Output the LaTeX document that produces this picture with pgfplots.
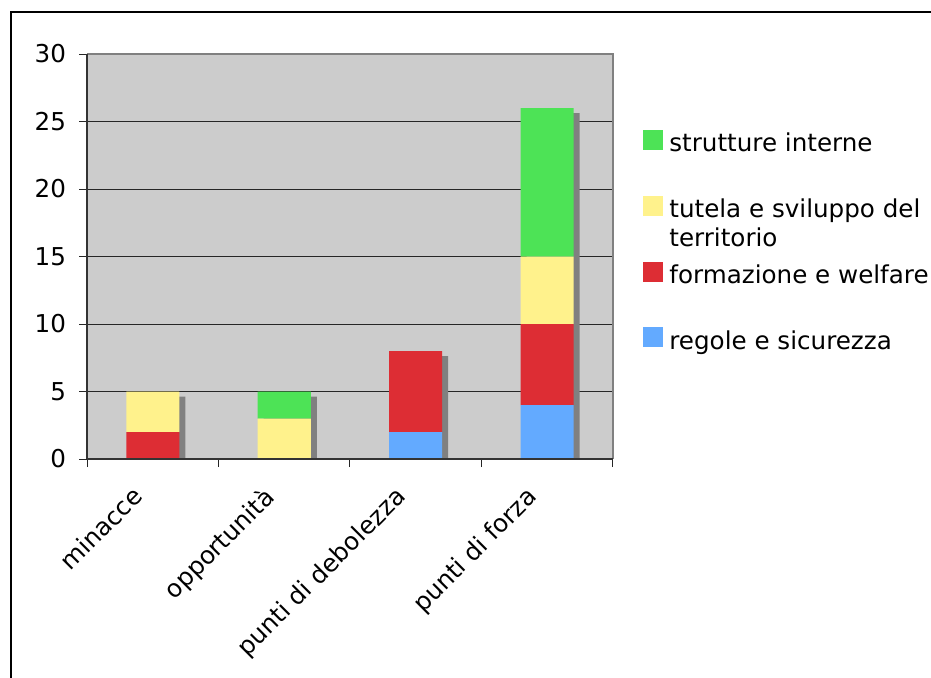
\documentclass[border=0pt]{standalone}
\usepackage{fontspec}
\setmainfont{DejaVu Sans}
\usepackage{pgfplots}
\pgfplotsset{compat=1.18}
\definecolor{cgreen}{HTML}{4DE356}
\definecolor{cyellow}{HTML}{FFF28C}
\definecolor{cred}{HTML}{DD2D34}
\definecolor{cblue}{HTML}{63AAFF}
\definecolor{cbg}{HTML}{CCCCCC}
\definecolor{cshadow}{HTML}{808080}
\newcommand{\chfont}{\fontsize{12.3}{14.5}\selectfont}
\begin{document}
\begin{tikzpicture}
\path[use as bounding box] (0,0) rectangle (465.5pt,338.5pt);
\draw[line width=1.1pt] (5.4pt,-20pt) -- (5.4pt,332.6pt) -- (490pt,332.6pt);
\begin{axis}[
  at={(43.5pt,109pt)}, anchor=south west, scale only axis,
  width=263pt, height=202.5pt,
  xmin=-0.5, xmax=3.5, ymin=0, ymax=30,
  axis background/.style={fill=cbg},
  axis line style={draw=none},
  xtick=\empty, ytick={5,10,15,20,25}, yticklabels={},
  major tick length=0pt,
  ymajorgrids, grid style={black!85, line width=0.5pt},
]
\addplot[ybar, bar width=26.5pt, fill=cshadow, draw=none, xshift=3pt, yshift=-2.5pt]
  coordinates {(0,5) (1,5) (2,8) (3,26)};
\end{axis}
\begin{axis}[
  at={(43.5pt,109pt)}, anchor=south west, scale only axis,
  width=263pt, height=202.5pt,
  xmin=-0.5, xmax=3.5, ymin=0, ymax=30,
  ybar stacked, bar width=26.5pt,
  axis line style={draw=none},
  tick pos=left, tick align=outside, major tick length=4pt,
  tick style={black!85, line width=0.5pt},
  xtick={-0.5,0.5,1.5,2.5,3.5}, xticklabels={},
  extra x ticks={0,1,2,3},
  extra x tick labels={minacce,opportunità,punti di debolezza,punti di forza},
  extra x tick style={major tick length=0pt,
    xticklabel style={xshift=-11pt, yshift=-8pt, rotate=45, anchor=north east}},
  ytick={0,5,...,30},
  yticklabel style={/pgf/number format/assume math mode=true, font=\chfont, xshift=-3pt},
  xticklabel style={font=\chfont},
  legend style={draw=none, fill=none, inner sep=0pt, at={(1,1)}, anchor=north west,
    xshift=15pt, yshift=-37.6pt, row sep=19.7pt, column sep=3pt,
    nodes={inner sep=0pt, text depth=0.24em}, cells={anchor=west},
    font=\chfont},
  legend image code/.code={\fill[#1] (0pt,-0.26em) rectangle (10pt,\dimexpr10pt-0.26em\relax);},
  reverse legend,
  after end axis/.code={
    \draw[cshadow, line width=1pt] (rel axis cs:0,1) -- (rel axis cs:1,1) -- (rel axis cs:1,0);
    \draw[black!80, line width=0.6pt] (rel axis cs:0,1) -- (rel axis cs:0,0);
    \draw[black!80, line width=1pt] (rel axis cs:0,0) -- (rel axis cs:1,0);
  },
]
\addplot[fill=cblue, draw=none] coordinates {(0,0) (1,0) (2,2) (3,4)};
\addlegendentry{\raisebox{0pt}[0.76em][0.24em]{regole e sicurezza}}
\addplot[fill=cred, draw=none] coordinates {(0,2) (1,0) (2,6) (3,6)};
\addlegendentry{\raisebox{0pt}[0.76em][0.24em]{formazione e welfare}}
\addplot[fill=cyellow, draw=none] coordinates {(0,3) (1,3) (2,0) (3,5)};
\addlegendentry{\raisebox{0pt}[0.76em][0.24em]{\begin{tabular}[t]{@{}l@{}}tutela e sviluppo del\\territorio\end{tabular}}}
\addplot[fill=cgreen, draw=none] coordinates {(0,0) (1,2) (2,0) (3,11)};
\addlegendentry{\raisebox{0pt}[0.76em][0.24em]{strutture interne}}
\end{axis}
\end{tikzpicture}
\end{document}
